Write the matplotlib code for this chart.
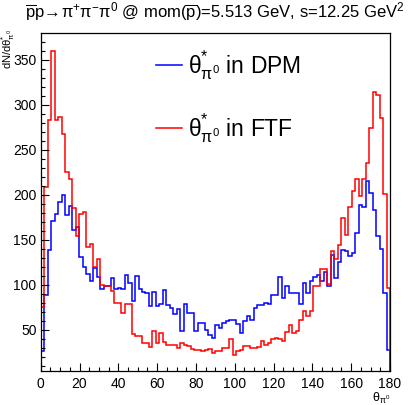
import numpy as np
import matplotlib
matplotlib.use("Agg")
import matplotlib.pyplot as plt

plt.rcParams['font.family'] = ['Liberation Sans', 'DejaVu Sans']
plt.rcParams['mathtext.fontset'] = 'custom'
plt.rcParams['mathtext.rm'] = 'Liberation Sans'
plt.rcParams['mathtext.it'] = 'Liberation Sans'
plt.rcParams['mathtext.bf'] = 'Liberation Sans:bold'
plt.rcParams['mathtext.sf'] = 'Liberation Sans'

# ---- data: 100 bins over 0..180 degrees ----
bin_edges = np.linspace(0, 180, 101)

dpm_counts = [
    26, 88, 138, 171, 178, 192, 200, 177, 187, 161,
    164, 131, 120, 112, 104, 118, 109, 95, 98, 98,
    107, 95, 96, 95, 111, 102, 82, 110, 95, 92,
    91, 76, 92, 76, 78, 94, 77, 74, 67, 73,
    48, 79, 68, 68, 48, 57, 57, 50, 44, 41,
    55, 52, 57, 59, 61, 61, 56, 46, 59, 65,
    61, 74, 77, 77, 80, 78, 89, 89, 108, 85,
    98, 91, 91, 91, 79, 102, 91, 104, 108, 111,
    104, 114, 99, 133, 107, 125, 138, 137, 132, 135,
    157, 188, 186, 215, 202, 183, 154, 140, 91, 27,
]

ftf_counts = [
    75, 209, 283, 360, 283, 286, 268, 225, 217, 185,
    154, 179, 181, 142, 145, 120, 128, 100, 98, 98,
    93, 80, 80, 68, 78, 78, 45, 43, 43, 35,
    35, 31, 48, 35, 46, 36, 33, 33, 33, 30,
    35, 33, 32, 28, 27, 27, 26, 27, 28, 24,
    26, 26, 30, 30, 40, 22, 26, 27, 32, 32,
    30, 30, 31, 37, 33, 35, 40, 41, 40, 37,
    47, 55, 46, 48, 61, 71, 65, 71, 99, 99,
    117, 117, 101, 137, 128, 144, 174, 155, 186, 204,
    217, 199, 217, 235, 274, 314, 311, 285, 201, 96,
]

series_labels = [r'$\mathregular{\theta^{*}_{\pi^{0}}}$ in DPM',
                 r'$\mathregular{\theta^{*}_{\pi^{0}}}$ in FTF']
series_colors = ['#0000ff', '#ff0000']

x_ticks = [0, 20, 40, 60, 80, 100, 120, 140, 160, 180]
y_ticks = [50, 100, 150, 200, 250, 300, 350]

title_text = (r'$\mathregular{\overline{p}p\!\rightarrow\!\pi^{+}\pi^{-}\pi^{0}}$ @ '
              r'mom($\mathregular{\overline{p}}$)=5.513 GeV, s=12.25 GeV$^{2}$')

# ---- figure ----
W, H = 410, 405
fig = plt.figure(figsize=(W / 100, H / 100), dpi=100)
L, R, T, B = 40.7, 390.0, 33.3, 370.5
ax = fig.add_axes([L / W, (H - B) / H, (R - L) / W, (B - T) / H])

lw = 1.1
art_dpm = ax.stairs(dpm_counts, bin_edges, baseline=0, color=series_colors[0], lw=lw)
art_ftf = ax.stairs(ftf_counts, bin_edges, baseline=0, color=series_colors[1], lw=lw)

ax.set_xlim(0, 180)
ax.set_ylim(4.5, 379.5)

ax.set_xticks(x_ticks)
ax.set_xticks(np.arange(0, 181, 5), minor=True)
ax.set_yticks(y_ticks)
ax.set_yticks(np.arange(10, 371, 10), minor=True)
ax.tick_params(which='both', direction='in', top=False, right=False,
               labelsize=10, width=0.8)
ax.tick_params(axis='x', pad=5)
ax.tick_params(axis='y', pad=3)
ax.tick_params(which='major', length=5.8)
ax.tick_params(which='minor', length=2.9)
for s in ax.spines.values():
    s.set_linewidth(0.9)

# legend drawn manually (line sample + label)
leg_y = [0.906, 0.718]
leg_ty = [0.8814, 0.694]
for art, lab, c, yl, yt in zip([art_dpm, art_ftf], series_labels, series_colors, leg_y, leg_ty):
    ax.plot([0.330, 0.4045], [yl, yl], transform=ax.transAxes, color=c, lw=lw)
    ax.text(0.4212, yt, lab, transform=ax.transAxes, fontsize=16.5,
            ha='left', va='baseline')

fig.text(405 / W, 1 - 12 / H, title_text, fontsize=12, ha='right', va='center')
fig.text(8.5 / W, 1 - 29 / H, r'dN/d$\mathregular{\theta^{*}_{\pi^{0}}}$', fontsize=8,
         rotation=90, ha='center', va='top')
fig.text(390 / W, 1 - 391 / H, r'$\mathregular{\theta_{\pi^{0}}}$', fontsize=9,
         ha='right', va='top')

fig.savefig('out.png', dpi=100)
